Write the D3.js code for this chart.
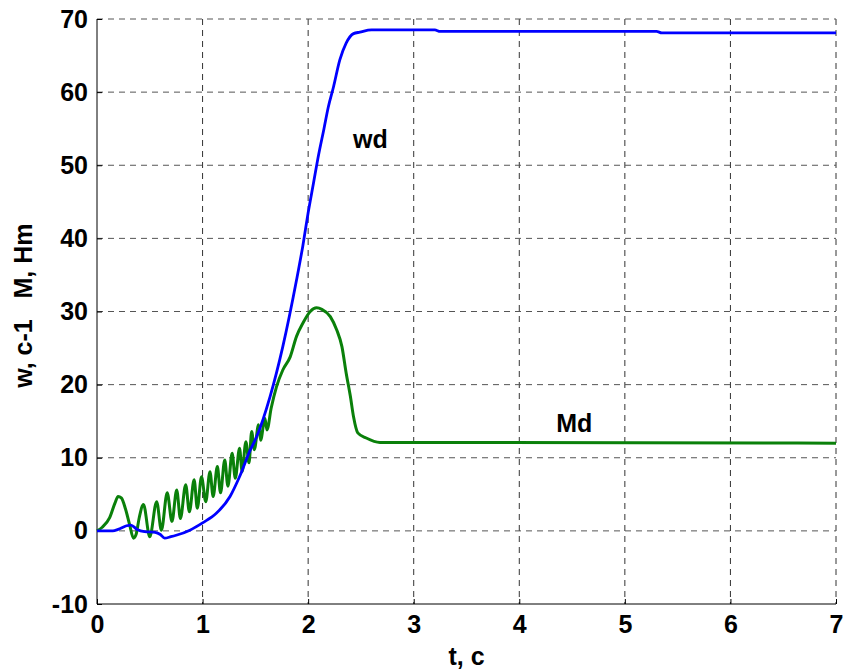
<!DOCTYPE html>
<html>
<head>
<meta charset="utf-8">
<script src="https://cdn.jsdelivr.net/npm/d3@7"></script>
<style>
    body { margin: 0; background: #fff; }
    text { font-family: "Liberation Sans", Arial, sans-serif; font-weight: bold; }
</style>
</head>
<body>
<div id="graph"></div>
<script>
// wd, c-1 (blue)
const wdT = [0, 0.15, 0.2, 0.28, 0.32, 0.38, 0.45, 0.55, 0.6, 0.64, 0.7, 0.75, 0.88, 1.0, 1.13, 1.26, 1.35, 1.45, 1.51, 1.64,
    1.76, 1.89, 1.95, 2.0, 2.05, 2.1, 2.15, 2.19, 2.24, 2.3, 2.36, 2.43, 2.49, 2.6, 3.2, 3.25, 5.3, 5.35, 7]
const wdV = [0, 0, 0.2, 0.7, 0.8, 0.2, -0.1, -0.2, -0.5, -1.0, -0.8, -0.6, 0.1, 1.1, 2.4, 4.7, 7.4, 11.0, 12.8, 18.4,
    25.2, 34.3, 39, 43.5, 47.5, 51.5, 55, 57.9, 60.7, 64.4, 66.7, 68.0, 68.2, 68.5, 68.5, 68.3, 68.3, 68.1, 68.1]

// Md, Hm (green)
const mdT = [0, 0.05, 0.12, 0.17, 0.2, 0.23, 0.27, 0.31, 0.345, 0.37, 0.4, 0.44, 0.5, 0.565, 0.61, 0.665, 0.71, 0.755, 0.79,
    0.84, 0.875, 0.92, 0.95, 0.99, 1.03, 1.07, 1.1, 1.14, 1.17, 1.21, 1.24, 1.28, 1.31, 1.35, 1.375, 1.41, 1.44,
    1.465, 1.49, 1.53, 1.55, 1.59, 1.61, 1.65, 1.7, 1.76, 1.83, 1.89, 1.95, 2.02, 2.08, 2.13, 2.21, 2.27, 2.32,
    2.36, 2.4, 2.43, 2.47, 2.55, 2.68, 7]
const mdV = [0, 0.5, 1.8, 3.8, 4.7, 4.5, 3.0, 0.8, -1.0, -0.5, 1.8, 3.6, -0.8, 4.0, 0.1, 5.2, 1.3, 5.6, 1.7,
    6.3, 2.6, 7.0, 3.1, 7.4, 4.0, 8.1, 4.7, 8.8, 5.2, 9.7, 6.1, 10.6, 7.2, 11.3, 8.1, 12.2, 9.3,
    13.6, 11.1, 14.5, 12.4, 15.4, 13.8, 16.8, 19.7, 22, 23.8, 26.6, 28.4, 30, 30.5, 30.3, 29.3, 27.5, 25.2,
    21.6, 18.4, 15.6, 13.4, 12.7, 12.1, 12.0]

const xTicks = [0, 1, 2, 3, 4, 5, 6, 7]
const yTicks = [-10, 0, 10, 20, 30, 40, 50, 60, 70]

const margin = { top: 19, right: 9, bottom: 68, left: 97 },
    w = 845 - margin.left - margin.right,
    h = 672 - margin.top - margin.bottom

const svg = d3.select("#graph")
    .append("svg")
    .attr("width", 845)
    .attr("height", 672)
    .append("g")
    .attr("transform", "translate(" + margin.left + "," + margin.top + ")")

const xScale = d3.scaleLinear().domain([0, 7]).range([0, w]),
    yScale = d3.scaleLinear().domain([-10, 70]).range([h, 0])

// grid
svg.append("g")
    .selectAll("line")
    .data(xTicks.slice(1))
    .enter()
    .append("line")
    .attr("x1", d => xScale(d)).attr("x2", d => xScale(d))
    .attr("y1", 0).attr("y2", h)
    .attr("stroke", "#333")
    .attr("stroke-dasharray", "6,5")

svg.append("g")
    .selectAll("line")
    .data(yTicks.slice(1))
    .enter()
    .append("line")
    .attr("y1", d => yScale(d)).attr("y2", d => yScale(d))
    .attr("x1", 0).attr("x2", w)
    .attr("stroke", "#555")
    .attr("stroke-dasharray", "6,5")

// axes
const xAxis = d3.axisBottom(xScale).tickValues(xTicks).tickSize(-5).tickPadding(11).tickFormat(d => String(d)),
    yAxis = d3.axisLeft(yScale).tickValues(yTicks).tickSize(-5).tickPadding(9).tickFormat(d => String(d))

const gx = svg.append("g")
    .attr("transform", `translate(0,${h})`)
    .call(xAxis)
gx.select(".domain").attr("d", `M0,0H${w}`)

const gy = svg.append("g").call(yAxis)
gy.select(".domain").attr("d", `M0,0V${h}`)

svg.selectAll(".tick text")
    .attr("font-size", 25)
    .attr("font-family", "Liberation Sans, Arial, sans-serif")
    .attr("font-weight", "bold")
    .attr("fill", "#000")

// curves
const line = d3.line().curve(d3.curveMonotoneX)
    .x(d => xScale(d[0]))
    .y(d => yScale(d[1]))

svg.append("path")
    .datum(mdT.map((t, i) => [t, mdV[i]]))
    .attr("d", line)
    .attr("fill", "none")
    .attr("stroke", "#0a800a")
    .attr("stroke-width", 3)

svg.append("path")
    .datum(wdT.map((t, i) => [t, wdV[i]]))
    .attr("d", line)
    .attr("fill", "none")
    .attr("stroke", "#0000ff")
    .attr("stroke-width", 2.8)

// labels
svg.append("text")
    .attr("x", xScale(2.425)).attr("y", yScale(52.4))
    .attr("font-size", 25)
    .text("wd")

svg.append("text")
    .attr("x", xScale(4.35)).attr("y", yScale(12.1) - 10)
    .attr("font-size", 25)
    .text("Md")

svg.append("text")
    .attr("x", w / 2).attr("y", h + 61)
    .attr("text-anchor", "middle")
    .attr("font-size", 25)
    .text("t, c")

svg.append("text")
    .attr("transform", `translate(${-margin.left + 32},${yScale(30.8)}) rotate(-90)`)
    .attr("text-anchor", "middle")
    .attr("font-size", 25)
    .style("white-space", "pre")
    .text("w, c-1   M, Hm")
</script>
</body>
</html>
